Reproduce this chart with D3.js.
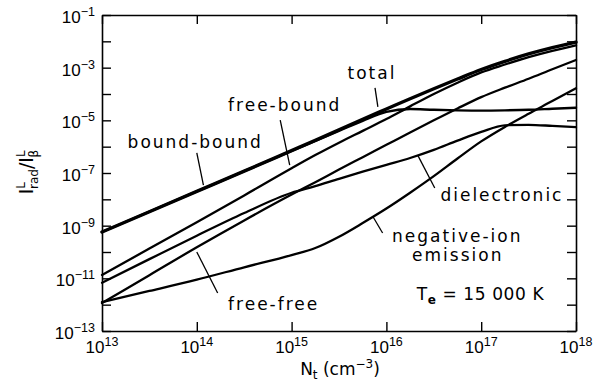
<!DOCTYPE html>
<html>
<head>
<meta charset="utf-8">
<script src="https://cdn.jsdelivr.net/npm/d3@7"></script>
<style>
  body { margin: 0; background: #fff; }
  svg { display: block; }
</style>
</head>
<body>
<div id="chart"></div>
<script>
const logN = [13, 13.5, 14, 14.5, 15, 15.25, 15.5, 15.75, 16, 16.25, 16.5, 16.75, 17, 17.25, 17.5, 17.75, 18];

// exponents of I_rad / I_beta for each process
const totalLog      = [-9.24, -8.47, -7.70, -6.93, -6.15, -5.76, -5.36, -4.96, -4.57, -4.18, -3.80, -3.43, -3.07, -2.76, -2.48, -2.24, -2.03];
const boundBoundLog = [-9.24, -8.47, -7.70, -6.93, -6.16, -5.78, -5.40, -5.02, -4.68, -4.57, -4.60, -4.62, -4.63, -4.62, -4.60, -4.56, -4.52];
const freeBoundLog  = [-10.87, -9.87, -8.87, -7.85, -6.82, -6.32, -5.85, -5.40, -4.95, -4.47, -4.00, -3.57, -3.18, -2.88, -2.60, -2.36, -2.15];
const freeFreeLog   = [-11.94, -10.88, -9.82, -8.80, -7.82, -7.35, -6.87, -6.40, -5.93, -5.46, -5.00, -4.55, -4.12, -3.76, -3.42, -3.06, -2.71];
const dielecLog     = [-11.17, -10.27, -9.38, -8.52, -7.75, -7.50, -7.22, -6.95, -6.69, -6.43, -6.12, -5.77, -5.44, -5.19, -5.17, -5.21, -5.26];
const negIonLog     = [-11.90, -11.48, -11.05, -10.58, -10.12, -9.85, -9.42, -8.90, -8.35, -7.75, -7.12, -6.45, -5.80, -5.25, -4.75, -4.27, -3.78];

const xExp = [13, 14, 15, 16, 17, 18];
const yExp = [-13, -12, -11, -10, -9, -8, -7, -6, -5, -4, -3, -2, -1];
const yLabelExp = [-13, -11, -9, -7, -5, -3, -1];

const width = 596, height = 385;
const margin = { top: 15, right: 20, bottom: 54, left: 102 };

const x = d3.scaleLog().domain([1e13, 1e18]).range([margin.left, width - margin.right]);
const y = d3.scaleLog().domain([1e-13, 1e-1]).range([height - margin.bottom, margin.top]);

const series = [
  { name: "total", vals: totalLog, w: 3.4 },
  { name: "bound-bound", vals: boundBoundLog, w: 2.4 },
  { name: "free-bound", vals: freeBoundLog, w: 2.3 },
  { name: "free-free", vals: freeFreeLog, w: 2.3 },
  { name: "dielectronic", vals: dielecLog, w: 2.3 },
  { name: "negative-ion", vals: negIonLog, w: 2.3 }
];

// label text + leader line, placed in data coordinates (exponents)
const notes = [
  { lines: ["total"], at: [15.59, -3.43], lead: [[15.88, -3.77], [15.91, -4.49]] },
  { lines: ["free-bound"], at: [14.33, -4.65], lead: [[14.88, -4.99], [14.98, -6.70]] },
  { lines: ["bound-bound"], at: [13.27, -6.05], lead: [[14.0, -6.24], [14.07, -7.46]] },
  { lines: ["dielectronic"], at: [16.57, -8.06], lead: [[16.33, -6.32], [16.51, -7.57]] },
  { lines: ["negative-ion", "emission"], at: [16.06, -9.62], lead: [[15.86, -8.67], [15.96, -9.28]] },
  { lines: ["free-free"], at: [14.33, -12.2], lead: [[14.0, -10.0], [14.22, -11.56]] }
];

const svg = d3.select("#chart").append("svg")
  .attr("width", width)
  .attr("height", height)
  .style("background", "#fff");

const px = d => x(Math.pow(10, d[0]));
const py = d => y(Math.pow(10, d[1]));

// frame + inward ticks on all four sides
const tick = 9;
const axisStyle = g => {
  g.select(".domain").attr("stroke", "#000").attr("stroke-width", 1.6);
  g.selectAll(".tick line").attr("stroke", "#000").attr("stroke-width", 1.4);
  g.selectAll(".tick text").remove();
};
const xVals = xExp.map(e => Math.pow(10, e));
const yVals = yExp.map(e => Math.pow(10, e));

svg.append("g")
  .attr("transform", `translate(0,${y.range()[0]})`)
  .call(d3.axisBottom(x).tickValues(xVals).tickSize(-tick).tickSizeOuter(0))
  .call(axisStyle);
svg.append("g")
  .attr("transform", `translate(0,${y.range()[1]})`)
  .call(d3.axisTop(x).tickValues(xVals).tickSize(-tick).tickSizeOuter(0))
  .call(axisStyle);
svg.append("g")
  .attr("transform", `translate(${x.range()[0]},0)`)
  .call(d3.axisLeft(y).tickValues(yVals).tickSize(-tick).tickSizeOuter(0))
  .call(axisStyle);
svg.append("g")
  .attr("transform", `translate(${x.range()[1]},0)`)
  .call(d3.axisRight(y).tickValues(yVals).tickSize(-tick).tickSizeOuter(0))
  .call(axisStyle);

const numFont = "'Liberation Sans', Arial, sans-serif";
const wordFont = "'DejaVu Sans', sans-serif";

// x tick labels 10^n
svg.append("g").selectAll("text")
  .data(xExp)
  .join("text")
  .attr("x", d => x(Math.pow(10, d)))
  .attr("y", y.range()[0] + 22)
  .attr("text-anchor", "middle")
  .style("font-family", numFont)
  .style("font-size", "17px")
  .each(function (d) {
    const t = d3.select(this);
    t.append("tspan").text("10");
    t.append("tspan").attr("dy", -7).style("font-size", "12.5px").text(d);
  });

// y tick labels 10^-n
svg.append("g").selectAll("text")
  .data(yLabelExp)
  .join("text")
  .attr("x", x.range()[0] - 7)
  .attr("y", d => y(Math.pow(10, d)) + 8)
  .attr("text-anchor", "end")
  .style("font-family", numFont)
  .style("font-size", "17px")
  .each(function (d) {
    const t = d3.select(this);
    t.append("tspan").text("10");
    t.append("tspan").attr("dy", -7).style("font-size", "12.5px").text("\u2212" + Math.abs(d));
  });

// axis titles
const xt = svg.append("text")
  .attr("x", (x.range()[0] + x.range()[1]) / 2 + 1)
  .attr("y", 375)
  .attr("text-anchor", "middle")
  .style("font-family", wordFont)
  .style("font-size", "17px");
xt.append("tspan").text("N");
xt.append("tspan").attr("dy", 4).style("font-size", "12px").text("t");
xt.append("tspan").attr("dy", -4).text(" (cm");
xt.append("tspan").attr("dy", -7).style("font-size", "12px").text("\u22123");
xt.append("tspan").attr("dy", 7).text(")");

const yt = svg.append("text")
  .attr("transform", "translate(33,172) rotate(-90)")
  .attr("text-anchor", "middle")
  .style("font-family", wordFont)
  .style("font-size", "19px");
yt.append("tspan").text("I");
yt.append("tspan").attr("dy", -8).style("font-size", "12px").text("L");
yt.append("tspan").attr("dx", -7).attr("dy", 13).style("font-size", "12px").text("rad");
yt.append("tspan").attr("dy", -5).text("/I");
yt.append("tspan").attr("dy", -8).style("font-size", "12px").text("L");
yt.append("tspan").attr("dx", -7).attr("dy", 13).style("font-size", "12px").text("\u03b2");

// curves
const line = d3.line()
  .x(d => px(d))
  .y(d => py(d))
  .curve(d3.curveMonotoneX);

svg.append("g")
  .attr("fill", "none")
  .attr("stroke", "#000")
  .attr("stroke-linejoin", "round")
  .attr("stroke-linecap", "round")
  .selectAll("path")
  .data(series)
  .join("path")
  .attr("stroke-width", d => d.w)
  .attr("d", d => line(logN.map((n, i) => [n, d.vals[i]])));

// leader lines
svg.append("g")
  .attr("stroke", "#000")
  .attr("stroke-width", 1.3)
  .selectAll("line")
  .data(notes)
  .join("line")
  .attr("x1", d => px(d.lead[0]))
  .attr("y1", d => py(d.lead[0]))
  .attr("x2", d => px(d.lead[1]))
  .attr("y2", d => py(d.lead[1]));

// labels
svg.append("g").selectAll("text")
  .data(notes)
  .join("text")
  .attr("x", d => px(d.at))
  .attr("y", d => py(d.at))
  .style("font-family", wordFont)
  .style("font-size", "17px")
  .style("letter-spacing", "2px")
  .each(function (d) {
    const t = d3.select(this);
    d.lines.forEach((s, i) => {
      t.append("tspan")
        .attr("x", i === 0 ? px(d.at) : px(d.at) + 20)
        .attr("dy", i === 0 ? 0 : 19)
        .text(s);
    });
  });

// temperature note
const te = svg.append("text")
  .attr("x", px([16.32, -11.82]))
  .attr("y", py([16.32, -11.82]))
  .style("font-family", wordFont)
  .style("font-size", "17px")
  .style("letter-spacing", "0.6px");
te.append("tspan").text("T");
te.append("tspan").attr("dy", 4).style("font-size", "12px").style("font-weight", "bold").text("e");
te.append("tspan").attr("dy", -4).text(" = 15 000 K");
</script>
</body>
</html>
